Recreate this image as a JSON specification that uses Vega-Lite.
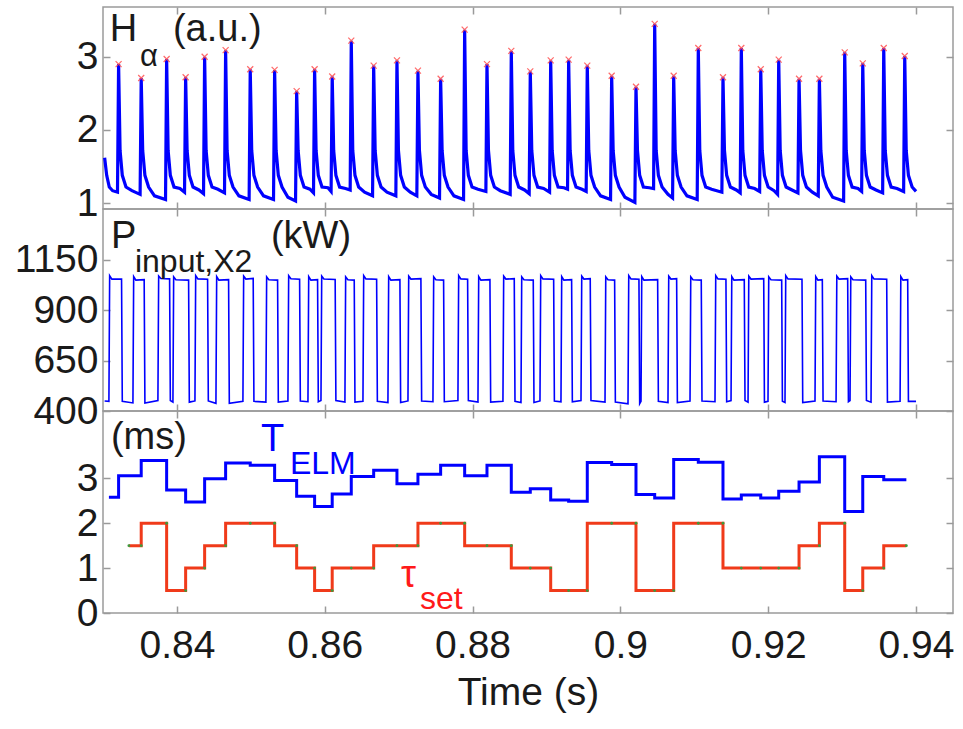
{
  "$schema": "https://vega.github.io/schema/vega-lite/v6.json",
  "padding": {"left": 13, "top": 5, "right": 0, "bottom": 0},
  "background": "white",
  "spacing": 0,
  "bounds": "flush",
  "config": {
    "font": "Liberation Sans",
    "view": {"stroke": "#9a9a9a", "strokeWidth": 1.5},
    "axis": {"grid": false, "domain": false, "tickColor": "#9a9a9a", "tickWidth": 1.5, "tickSize": -7,
      "labelFont": "Liberation Sans", "labelFontSize": 39, "labelColor": "#1a1a1a",
      "titleFont": "Liberation Sans", "titleFontSize": 39, "titleFontWeight": "normal", "titleColor": "#1a1a1a",
      "labelFlush": false, "labelOverlap": false, "labelBound": false},
    "text": {"font": "Liberation Sans", "align": "left", "baseline": "alphabetic"}
  },
  "datasets": {
    "ha": [
      {"t":0.83022,"v":1.62},{"t":0.83050,"v":1.38},{"t":0.83085,"v":1.22},{"t":0.83130,"v":1.17},
      {"t":0.83196,"v":1.15},{"t":0.83211,"v":2.90},{"t":0.83231,"v":1.72},{"t":0.83261,"v":1.38},{"t":0.83311,"v":1.22},{"t":0.83391,"v":1.17},
      {"t":0.83502,"v":1.12},{"t":0.83517,"v":2.71},{"t":0.83537,"v":1.72},{"t":0.83567,"v":1.38},{"t":0.83617,"v":1.22},{"t":0.83697,"v":1.10},
      {"t":0.83846,"v":1.05},{"t":0.83861,"v":2.97},{"t":0.83881,"v":1.72},{"t":0.83911,"v":1.38},{"t":0.83961,"v":1.22},{"t":0.84041,"v":1.20},
      {"t":0.84103,"v":1.15},{"t":0.84118,"v":2.72},{"t":0.84138,"v":1.72},{"t":0.84168,"v":1.38},{"t":0.84218,"v":1.22},{"t":0.84298,"v":1.18},
      {"t":0.84360,"v":1.13},{"t":0.84375,"v":3.00},{"t":0.84395,"v":1.72},{"t":0.84425,"v":1.38},{"t":0.84475,"v":1.22},{"t":0.84555,"v":1.19},
      {"t":0.84644,"v":1.14},{"t":0.84659,"v":3.09},{"t":0.84679,"v":1.72},{"t":0.84709,"v":1.38},{"t":0.84759,"v":1.22},{"t":0.84839,"v":1.10},
      {"t":0.84977,"v":1.05},{"t":0.84992,"v":2.83},{"t":0.85012,"v":1.72},{"t":0.85042,"v":1.38},{"t":0.85092,"v":1.22},{"t":0.85172,"v":1.10},
      {"t":0.85307,"v":1.05},{"t":0.85322,"v":2.82},{"t":0.85342,"v":1.72},{"t":0.85372,"v":1.38},{"t":0.85422,"v":1.22},{"t":0.85502,"v":1.08},
      {"t":0.85605,"v":1.03},{"t":0.85620,"v":2.53},{"t":0.85640,"v":1.72},{"t":0.85670,"v":1.38},{"t":0.85720,"v":1.22},{"t":0.85800,"v":1.19},
      {"t":0.85848,"v":1.14},{"t":0.85863,"v":2.83},{"t":0.85883,"v":1.72},{"t":0.85913,"v":1.38},{"t":0.85963,"v":1.22},{"t":0.86043,"v":1.21},
      {"t":0.86086,"v":1.16},{"t":0.86101,"v":2.73},{"t":0.86121,"v":1.72},{"t":0.86151,"v":1.38},{"t":0.86201,"v":1.22},{"t":0.86281,"v":1.20},
      {"t":0.86344,"v":1.18},{"t":0.86359,"v":3.22},{"t":0.86379,"v":1.72},{"t":0.86409,"v":1.38},{"t":0.86459,"v":1.22},{"t":0.86539,"v":1.15},
      {"t":0.86647,"v":1.10},{"t":0.86662,"v":2.88},{"t":0.86682,"v":1.72},{"t":0.86712,"v":1.38},{"t":0.86762,"v":1.22},{"t":0.86842,"v":1.15},
      {"t":0.86962,"v":1.10},{"t":0.86977,"v":2.95},{"t":0.86997,"v":1.72},{"t":0.87027,"v":1.38},{"t":0.87077,"v":1.22},{"t":0.87157,"v":1.15},
      {"t":0.87246,"v":1.10},{"t":0.87261,"v":2.81},{"t":0.87281,"v":1.72},{"t":0.87311,"v":1.38},{"t":0.87361,"v":1.22},{"t":0.87441,"v":1.12},
      {"t":0.87553,"v":1.07},{"t":0.87568,"v":2.70},{"t":0.87588,"v":1.72},{"t":0.87618,"v":1.38},{"t":0.87668,"v":1.22},{"t":0.87748,"v":1.10},
      {"t":0.87878,"v":1.05},{"t":0.87893,"v":3.37},{"t":0.87913,"v":1.72},{"t":0.87943,"v":1.38},{"t":0.87993,"v":1.22},{"t":0.88073,"v":1.19},
      {"t":0.88180,"v":1.16},{"t":0.88195,"v":2.90},{"t":0.88215,"v":1.72},{"t":0.88245,"v":1.38},{"t":0.88295,"v":1.22},{"t":0.88375,"v":1.17},
      {"t":0.88509,"v":1.12},{"t":0.88524,"v":3.08},{"t":0.88544,"v":1.72},{"t":0.88574,"v":1.38},{"t":0.88624,"v":1.22},{"t":0.88704,"v":1.18},
      {"t":0.88766,"v":1.13},{"t":0.88781,"v":2.80},{"t":0.88801,"v":1.72},{"t":0.88831,"v":1.38},{"t":0.88881,"v":1.22},{"t":0.88961,"v":1.20},
      {"t":0.89042,"v":1.15},{"t":0.89057,"v":2.95},{"t":0.89077,"v":1.72},{"t":0.89107,"v":1.38},{"t":0.89157,"v":1.22},{"t":0.89237,"v":1.21},
      {"t":0.89285,"v":1.19},{"t":0.89300,"v":2.96},{"t":0.89320,"v":1.72},{"t":0.89350,"v":1.38},{"t":0.89400,"v":1.22},{"t":0.89480,"v":1.19},
      {"t":0.89537,"v":1.16},{"t":0.89552,"v":2.88},{"t":0.89572,"v":1.72},{"t":0.89602,"v":1.38},{"t":0.89652,"v":1.22},{"t":0.89732,"v":1.10},
      {"t":0.89867,"v":1.05},{"t":0.89882,"v":2.74},{"t":0.89902,"v":1.72},{"t":0.89932,"v":1.38},{"t":0.89982,"v":1.22},{"t":0.90062,"v":1.08},
      {"t":0.90196,"v":1.01},{"t":0.90211,"v":2.59},{"t":0.90231,"v":1.72},{"t":0.90261,"v":1.38},{"t":0.90311,"v":1.22},{"t":0.90391,"v":1.21},
      {"t":0.90449,"v":1.20},{"t":0.90464,"v":3.45},{"t":0.90484,"v":1.72},{"t":0.90514,"v":1.38},{"t":0.90564,"v":1.22},{"t":0.90644,"v":1.12},
      {"t":0.90706,"v":1.07},{"t":0.90721,"v":2.74},{"t":0.90741,"v":1.72},{"t":0.90771,"v":1.38},{"t":0.90821,"v":1.22},{"t":0.90901,"v":1.10},
      {"t":0.91039,"v":1.05},{"t":0.91054,"v":3.12},{"t":0.91074,"v":1.72},{"t":0.91104,"v":1.38},{"t":0.91154,"v":1.22},{"t":0.91234,"v":1.19},
      {"t":0.91373,"v":1.15},{"t":0.91388,"v":2.72},{"t":0.91408,"v":1.72},{"t":0.91438,"v":1.38},{"t":0.91488,"v":1.22},{"t":0.91568,"v":1.18},
      {"t":0.91621,"v":1.14},{"t":0.91636,"v":3.12},{"t":0.91656,"v":1.72},{"t":0.91686,"v":1.38},{"t":0.91736,"v":1.22},{"t":0.91816,"v":1.20},
      {"t":0.91884,"v":1.16},{"t":0.91899,"v":2.83},{"t":0.91919,"v":1.72},{"t":0.91949,"v":1.38},{"t":0.91999,"v":1.22},{"t":0.92079,"v":1.17},
      {"t":0.92127,"v":1.12},{"t":0.92142,"v":2.96},{"t":0.92162,"v":1.72},{"t":0.92192,"v":1.38},{"t":0.92242,"v":1.22},{"t":0.92322,"v":1.18},
      {"t":0.92402,"v":1.14},{"t":0.92417,"v":2.70},{"t":0.92437,"v":1.72},{"t":0.92467,"v":1.38},{"t":0.92517,"v":1.22},{"t":0.92597,"v":1.15},
      {"t":0.92677,"v":1.10},{"t":0.92692,"v":2.70},{"t":0.92712,"v":1.72},{"t":0.92742,"v":1.38},{"t":0.92792,"v":1.22},{"t":0.92872,"v":1.08},
      {"t":0.93020,"v":1.03},{"t":0.93035,"v":3.06},{"t":0.93055,"v":1.72},{"t":0.93085,"v":1.38},{"t":0.93135,"v":1.22},{"t":0.93215,"v":1.20},
      {"t":0.93264,"v":1.16},{"t":0.93279,"v":2.91},{"t":0.93299,"v":1.72},{"t":0.93329,"v":1.38},{"t":0.93379,"v":1.22},{"t":0.93459,"v":1.18},
      {"t":0.93548,"v":1.14},{"t":0.93563,"v":3.12},{"t":0.93583,"v":1.72},{"t":0.93613,"v":1.38},{"t":0.93663,"v":1.22},{"t":0.93743,"v":1.20},
      {"t":0.93832,"v":1.16},{"t":0.93847,"v":3.01},{"t":0.93867,"v":1.72},{"t":0.93897,"v":1.38},{"t":0.93947,"v":1.22},{"t":0.94000,"v":1.16}
    ],
    "pk": [
      {"t":0.83211,"v":2.90},{"t":0.83517,"v":2.71},{"t":0.83861,"v":2.97},{"t":0.84118,"v":2.72},{"t":0.84375,"v":3.00},
      {"t":0.84659,"v":3.09},{"t":0.84992,"v":2.83},{"t":0.85322,"v":2.82},{"t":0.85620,"v":2.53},{"t":0.85863,"v":2.83},
      {"t":0.86101,"v":2.73},{"t":0.86359,"v":3.22},{"t":0.86662,"v":2.88},{"t":0.86977,"v":2.95},{"t":0.87261,"v":2.81},
      {"t":0.87568,"v":2.70},{"t":0.87893,"v":3.37},{"t":0.88195,"v":2.90},{"t":0.88524,"v":3.08},{"t":0.88781,"v":2.80},
      {"t":0.89057,"v":2.95},{"t":0.89300,"v":2.96},{"t":0.89552,"v":2.88},{"t":0.89882,"v":2.74},{"t":0.90211,"v":2.59},
      {"t":0.90464,"v":3.45},{"t":0.90721,"v":2.74},{"t":0.91054,"v":3.12},{"t":0.91388,"v":2.72},{"t":0.91636,"v":3.12},
      {"t":0.91899,"v":2.83},{"t":0.92142,"v":2.96},{"t":0.92417,"v":2.70},{"t":0.92692,"v":2.70},{"t":0.93035,"v":3.06},
      {"t":0.93279,"v":2.91},{"t":0.93563,"v":3.12},{"t":0.93847,"v":3.01}
    ],
    "pw": [
      {"t":0.83022,"v":450},
      {"t":0.83080,"v":448},{"t":0.83090,"v":1072},{"t":0.83120,"v":1055},{"t":0.83251,"v":1055},{"t":0.83261,"v":448},
      {"t":0.83405,"v":440},{"t":0.83415,"v":1068},{"t":0.83445,"v":1050},{"t":0.83557,"v":1052},{"t":0.83567,"v":440},
      {"t":0.83743,"v":452},{"t":0.83753,"v":1070},{"t":0.83783,"v":1058},{"t":0.83901,"v":1056},{"t":0.83911,"v":452},
      {"t":0.83946,"v":444},{"t":0.83956,"v":1066},{"t":0.83986,"v":1052},{"t":0.84158,"v":1050},{"t":0.84168,"v":444},
      {"t":0.84244,"v":450},{"t":0.84254,"v":1072},{"t":0.84284,"v":1056},{"t":0.84415,"v":1054},{"t":0.84425,"v":450},
      {"t":0.84528,"v":438},{"t":0.84538,"v":1068},{"t":0.84568,"v":1050},{"t":0.84699,"v":1052},{"t":0.84709,"v":438},
      {"t":0.84893,"v":448},{"t":0.84903,"v":1070},{"t":0.84933,"v":1055},{"t":0.85032,"v":1058},{"t":0.85042,"v":448},
      {"t":0.85204,"v":444},{"t":0.85214,"v":1066},{"t":0.85244,"v":1052},{"t":0.85362,"v":1050},{"t":0.85372,"v":444},
      {"t":0.85502,"v":450},{"t":0.85512,"v":1072},{"t":0.85542,"v":1057},{"t":0.85660,"v":1054},{"t":0.85670,"v":450},
      {"t":0.85773,"v":446},{"t":0.85783,"v":1068},{"t":0.85813,"v":1050},{"t":0.85903,"v":1052},{"t":0.85913,"v":446},
      {"t":0.85949,"v":452},{"t":0.85959,"v":1070},{"t":0.85989,"v":1055},{"t":0.86141,"v":1053},{"t":0.86151,"v":452},
      {"t":0.86273,"v":444},{"t":0.86283,"v":1066},{"t":0.86313,"v":1052},{"t":0.86399,"v":1050},{"t":0.86409,"v":444},
      {"t":0.86517,"v":448},{"t":0.86527,"v":1072},{"t":0.86557,"v":1056},{"t":0.86702,"v":1054},{"t":0.86712,"v":448},
      {"t":0.86855,"v":442},{"t":0.86865,"v":1068},{"t":0.86895,"v":1050},{"t":0.87017,"v":1052},{"t":0.87027,"v":442},
      {"t":0.87126,"v":450},{"t":0.87136,"v":1070},{"t":0.87166,"v":1055},{"t":0.87301,"v":1057},{"t":0.87311,"v":450},
      {"t":0.87464,"v":446},{"t":0.87474,"v":1066},{"t":0.87504,"v":1052},{"t":0.87608,"v":1050},{"t":0.87618,"v":446},
      {"t":0.87802,"v":452},{"t":0.87812,"v":1072},{"t":0.87842,"v":1056},{"t":0.87933,"v":1054},{"t":0.87943,"v":452},
      {"t":0.88073,"v":444},{"t":0.88083,"v":1068},{"t":0.88113,"v":1050},{"t":0.88235,"v":1052},{"t":0.88245,"v":444},
      {"t":0.88411,"v":448},{"t":0.88421,"v":1070},{"t":0.88451,"v":1055},{"t":0.88564,"v":1057},{"t":0.88574,"v":448},
      {"t":0.88655,"v":442},{"t":0.88665,"v":1066},{"t":0.88695,"v":1052},{"t":0.88821,"v":1050},{"t":0.88831,"v":442},
      {"t":0.88912,"v":450},{"t":0.88922,"v":1072},{"t":0.88952,"v":1056},{"t":0.89097,"v":1054},{"t":0.89107,"v":450},
      {"t":0.89196,"v":446},{"t":0.89206,"v":1068},{"t":0.89236,"v":1050},{"t":0.89340,"v":1052},{"t":0.89350,"v":446},
      {"t":0.89467,"v":452},{"t":0.89477,"v":1070},{"t":0.89507,"v":1055},{"t":0.89592,"v":1057},{"t":0.89602,"v":452},
      {"t":0.89792,"v":444},{"t":0.89802,"v":1066},{"t":0.89832,"v":1052},{"t":0.89922,"v":1050},{"t":0.89932,"v":444},
      {"t":0.90103,"v":436},{"t":0.90113,"v":1072},{"t":0.90143,"v":1056},{"t":0.90251,"v":1054},{"t":0.90261,"v":436},
      {"t":0.90279,"v":448},{"t":0.90289,"v":1068},{"t":0.90319,"v":1050},{"t":0.90504,"v":1052},{"t":0.90514,"v":448},
      {"t":0.90644,"v":442},{"t":0.90654,"v":1070},{"t":0.90684,"v":1055},{"t":0.90761,"v":1057},{"t":0.90771,"v":442},
      {"t":0.90942,"v":450},{"t":0.90952,"v":1066},{"t":0.90982,"v":1052},{"t":0.91094,"v":1050},{"t":0.91104,"v":450},
      {"t":0.91280,"v":446},{"t":0.91290,"v":1072},{"t":0.91320,"v":1056},{"t":0.91428,"v":1054},{"t":0.91438,"v":446},
      {"t":0.91497,"v":452},{"t":0.91507,"v":1068},{"t":0.91537,"v":1050},{"t":0.91676,"v":1052},{"t":0.91686,"v":452},
      {"t":0.91727,"v":444},{"t":0.91737,"v":1070},{"t":0.91767,"v":1055},{"t":0.91939,"v":1057},{"t":0.91949,"v":444},
      {"t":0.91997,"v":448},{"t":0.92007,"v":1066},{"t":0.92037,"v":1052},{"t":0.92182,"v":1050},{"t":0.92192,"v":448},
      {"t":0.92227,"v":442},{"t":0.92237,"v":1072},{"t":0.92267,"v":1056},{"t":0.92457,"v":1054},{"t":0.92467,"v":442},
      {"t":0.92633,"v":450},{"t":0.92643,"v":1068},{"t":0.92673,"v":1050},{"t":0.92732,"v":1052},{"t":0.92742,"v":450},
      {"t":0.92918,"v":446},{"t":0.92928,"v":1070},{"t":0.92958,"v":1055},{"t":0.93075,"v":1057},{"t":0.93085,"v":446},
      {"t":0.93107,"v":452},{"t":0.93117,"v":1066},{"t":0.93147,"v":1052},{"t":0.93319,"v":1050},{"t":0.93329,"v":452},
      {"t":0.93391,"v":444},{"t":0.93401,"v":1072},{"t":0.93431,"v":1056},{"t":0.93603,"v":1054},{"t":0.93613,"v":444},
      {"t":0.93784,"v":448},{"t":0.93794,"v":1068},{"t":0.93824,"v":1050},{"t":0.93887,"v":1052},{"t":0.93897,"v":448},
      {"t":0.94000,"v":448}
    ],
    "te": [
      {"t":0.83080,"v":2.58},{"t":0.83211,"v":3.06},{"t":0.83517,"v":3.40},{"t":0.83861,"v":2.74},{"t":0.84118,"v":2.47},
      {"t":0.84375,"v":2.99},{"t":0.84659,"v":3.34},{"t":0.84992,"v":3.29},{"t":0.85322,"v":2.95},{"t":0.85620,"v":2.60},
      {"t":0.85863,"v":2.37},{"t":0.86101,"v":2.65},{"t":0.86359,"v":3.04},{"t":0.86662,"v":3.18},{"t":0.86977,"v":2.88},
      {"t":0.87261,"v":3.09},{"t":0.87568,"v":3.29},{"t":0.87893,"v":3.06},{"t":0.88195,"v":3.29},{"t":0.88524,"v":2.69},
      {"t":0.88781,"v":2.77},{"t":0.89057,"v":2.52},{"t":0.89300,"v":2.49},{"t":0.89552,"v":3.35},{"t":0.89882,"v":3.31},
      {"t":0.90211,"v":2.64},{"t":0.90464,"v":2.56},{"t":0.90721,"v":3.42},{"t":0.91054,"v":3.36},{"t":0.91388,"v":2.54},
      {"t":0.91636,"v":2.63},{"t":0.91899,"v":2.56},{"t":0.92142,"v":2.71},{"t":0.92417,"v":2.92},{"t":0.92692,"v":3.48},
      {"t":0.93035,"v":2.26},{"t":0.93279,"v":3.04},{"t":0.93563,"v":2.97},{"t":0.93869,"v":2.97}
    ],
    "ts": [
      {"t":0.83350,"v":1.5},{"t":0.83517,"v":2.0},{"t":0.83861,"v":0.5},{"t":0.84118,"v":1.0},{"t":0.84375,"v":1.5},
      {"t":0.84659,"v":2.0},{"t":0.85322,"v":1.5},{"t":0.85620,"v":1.0},{"t":0.85863,"v":0.5},{"t":0.86101,"v":1.0},
      {"t":0.86662,"v":1.5},{"t":0.87261,"v":2.0},{"t":0.87893,"v":1.5},{"t":0.88524,"v":1.0},{"t":0.89057,"v":0.5},
      {"t":0.89552,"v":2.0},{"t":0.90211,"v":0.5},{"t":0.90721,"v":2.0},{"t":0.91388,"v":1.0},{"t":0.92417,"v":1.5},
      {"t":0.92692,"v":2.0},{"t":0.93035,"v":0.5},{"t":0.93279,"v":1.0},{"t":0.93563,"v":1.5},{"t":0.93869,"v":1.5}
    ],
    "dots": [
      {"t":0.83350,"v":1.5},{"t":0.83517,"v":1.5},{"t":0.83861,"v":2.0},{"t":0.84118,"v":0.5},{"t":0.84375,"v":1.0},
      {"t":0.84659,"v":1.5},{"t":0.84992,"v":2.0},{"t":0.85322,"v":2.0},{"t":0.85620,"v":1.5},{"t":0.85863,"v":1.0},
      {"t":0.86101,"v":0.5},{"t":0.86359,"v":1.0},{"t":0.86662,"v":1.0},{"t":0.86977,"v":1.5},{"t":0.87261,"v":1.5},
      {"t":0.87568,"v":2.0},{"t":0.87893,"v":2.0},{"t":0.88195,"v":1.5},{"t":0.88524,"v":1.5},{"t":0.88781,"v":1.0},
      {"t":0.89057,"v":1.0},{"t":0.89300,"v":0.5},{"t":0.89552,"v":0.5},{"t":0.89882,"v":2.0},{"t":0.90211,"v":2.0},
      {"t":0.90464,"v":0.5},{"t":0.90721,"v":0.5},{"t":0.91054,"v":2.0},{"t":0.91388,"v":2.0},{"t":0.91636,"v":1.0},
      {"t":0.91899,"v":1.0},{"t":0.92142,"v":1.0},{"t":0.92417,"v":1.0},{"t":0.92692,"v":1.5},{"t":0.93035,"v":2.0},
      {"t":0.93279,"v":0.5},{"t":0.93563,"v":1.0},{"t":0.93869,"v":1.5}
    ]
  },
  "vconcat": [
    {
      "width": 850, "height": 202,
      "layer": [
        {"data": {"name": "ha"}, "mark": {"type": "line", "color": "#0000ff", "strokeWidth": 3.2},
         "encoding": {
           "x": {"field": "t", "type": "quantitative", "scale": {"domain": [0.83, 0.945], "nice": false, "zero": false},
                 "axis": {"orient": "bottom", "values": [0.84,0.86,0.88,0.9,0.92,0.94], "labels": false, "title": null}},
           "y": {"field": "v", "type": "quantitative", "scale": {"domain": [0.92, 3.68], "nice": false, "zero": false},
                 "axis": {"orient": "left", "values": [1,2,3], "format": "d", "title": null, "labelPadding": 12}}}},
        {"data": {"name": "pk"}, "mark": {"type": "point", "shape": "M-1,-1L1,1M-1,1L1,-1", "filled": false, "color": "#ff5050", "strokeWidth": 1.2, "size": 36, "opacity": 0.85},
         "encoding": {
           "x": {"field": "t", "type": "quantitative", "axis": {"orient": "top", "values": [0.84,0.86,0.88,0.9,0.92,0.94], "labels": false, "title": null}},
           "y": {"field": "v", "type": "quantitative", "axis": {"orient": "right", "values": [1,2,3], "labels": false, "title": null}}}},
        {"data": {"values": [{"t":0.83093,"v":3.22,"s":"H"},{"t":0.83946,"v":3.22,"s":"(a.u.)"}]},
         "mark": {"type": "text", "fontSize": 38, "fill": "#1a1a1a"},
         "encoding": {"x": {"field": "t", "type": "quantitative", "axis": null}, "y": {"field": "v", "type": "quantitative", "axis": null}, "text": {"field": "s"}}},
        {"data": {"values": [{"t":0.83499,"v":2.88,"s":"α"}]},
         "mark": {"type": "text", "fontSize": 31, "fill": "#1a1a1a"},
         "encoding": {"x": {"field": "t", "type": "quantitative", "axis": null}, "y": {"field": "v", "type": "quantitative", "axis": null}, "text": {"field": "s"}}}
      ],
      "resolve": {"axis": {"x": "independent", "y": "independent"}}
    },
    {
      "width": 850, "height": 202,
      "layer": [
        {"data": {"name": "pw"}, "mark": {"type": "line", "color": "#0000ff", "strokeWidth": 1.6},
         "encoding": {
           "x": {"field": "t", "type": "quantitative", "scale": {"domain": [0.83, 0.945], "nice": false, "zero": false},
                 "axis": {"orient": "bottom", "values": [0.84,0.86,0.88,0.9,0.92,0.94], "labels": false, "title": null}},
           "y": {"field": "v", "type": "quantitative", "scale": {"domain": [400, 1403], "nice": false, "zero": false},
                 "axis": {"orient": "left", "values": [400,650,900,1150], "format": "d", "title": null, "labelPadding": 12}}}},
        {"data": {"values": [{"t":0.83107,"v":1210,"s":"P"},{"t":0.85272,"v":1210,"s":"(kW)"}]},
         "mark": {"type": "text", "fontSize": 38, "fill": "#1a1a1a"},
         "encoding": {
           "x": {"field": "t", "type": "quantitative", "axis": {"orient": "top", "values": [0.84,0.86,0.88,0.9,0.92,0.94], "labels": false, "title": null}},
           "y": {"field": "v", "type": "quantitative", "axis": {"orient": "right", "values": [400,650,900,1150], "labels": false, "title": null}},
           "text": {"field": "s"}}},
        {"data": {"values": [{"t":0.83432,"v":1090,"s":"input,X2"}]},
         "mark": {"type": "text", "fontSize": 32, "fill": "#1a1a1a"},
         "encoding": {"x": {"field": "t", "type": "quantitative", "axis": null}, "y": {"field": "v", "type": "quantitative", "axis": null}, "text": {"field": "s"}}}
      ],
      "resolve": {"axis": {"x": "independent", "y": "independent"}}
    },
    {
      "width": 850, "height": 202,
      "layer": [
        {"data": {"name": "te"}, "mark": {"type": "line", "color": "#0000ff", "strokeWidth": 3, "interpolate": "step-after"},
         "encoding": {
           "x": {"field": "t", "type": "quantitative", "scale": {"domain": [0.83, 0.945], "nice": false, "zero": false},
                 "axis": {"orient": "bottom", "values": [0.84,0.86,0.88,0.9,0.92,0.94], "format": ".2~f", "title": "Time (s)", "labelPadding": 20, "titlePadding": 8}},
           "y": {"field": "v", "type": "quantitative", "scale": {"domain": [0, 4.5], "nice": false, "zero": false},
                 "axis": {"orient": "left", "values": [0,1,2,3], "format": "d", "title": null, "labelPadding": 12}}}},
        {"data": {"name": "ts"}, "mark": {"type": "line", "color": "#f03a1a", "strokeWidth": 3, "interpolate": "step-after"},
         "encoding": {
           "x": {"field": "t", "type": "quantitative", "axis": {"orient": "top", "values": [0.84,0.86,0.88,0.9,0.92,0.94], "labels": false, "title": null}},
           "y": {"field": "v", "type": "quantitative", "axis": {"orient": "right", "values": [0,1,2,3], "labels": false, "title": null}}}},
        {"data": {"name": "dots"}, "mark": {"type": "circle", "color": "#3c9a3c", "size": 8, "opacity": 1},
         "encoding": {"x": {"field": "t", "type": "quantitative", "axis": null}, "y": {"field": "v", "type": "quantitative", "axis": null}}},
        {"data": {"values": [{"t":0.83107,"v":3.65,"s":"(ms)"}]},
         "mark": {"type": "text", "fontSize": 38, "fill": "#1a1a1a"},
         "encoding": {"x": {"field": "t", "type": "quantitative", "axis": null}, "y": {"field": "v", "type": "quantitative", "axis": null}, "text": {"field": "s"}}},
        {"data": {"values": [{"t":0.85137,"v":3.61,"s":"T"}]},
         "mark": {"type": "text", "fontSize": 38, "fill": "#0000ff"},
         "encoding": {"x": {"field": "t", "type": "quantitative", "axis": null}, "y": {"field": "v", "type": "quantitative", "axis": null}, "text": {"field": "s"}}},
        {"data": {"values": [{"t":0.85529,"v":3.10,"s":"ELM"}]},
         "mark": {"type": "text", "fontSize": 32, "fill": "#0000ff"},
         "encoding": {"x": {"field": "t", "type": "quantitative", "axis": null}, "y": {"field": "v", "type": "quantitative", "axis": null}, "text": {"field": "s"}}},
        {"data": {"values": [{"t":0.87031,"v":0.58,"s":"τ"}]},
         "mark": {"type": "text", "fontSize": 38, "fill": "#ff1a1a"},
         "encoding": {"x": {"field": "t", "type": "quantitative", "axis": null}, "y": {"field": "v", "type": "quantitative", "axis": null}, "text": {"field": "s"}}},
        {"data": {"values": [{"t":0.87288,"v":0.09,"s":"set"}]},
         "mark": {"type": "text", "fontSize": 32, "fill": "#ff1a1a"},
         "encoding": {"x": {"field": "t", "type": "quantitative", "axis": null}, "y": {"field": "v", "type": "quantitative", "axis": null}, "text": {"field": "s"}}}
      ],
      "resolve": {"axis": {"x": "independent", "y": "independent"}}
    }
  ]
}
